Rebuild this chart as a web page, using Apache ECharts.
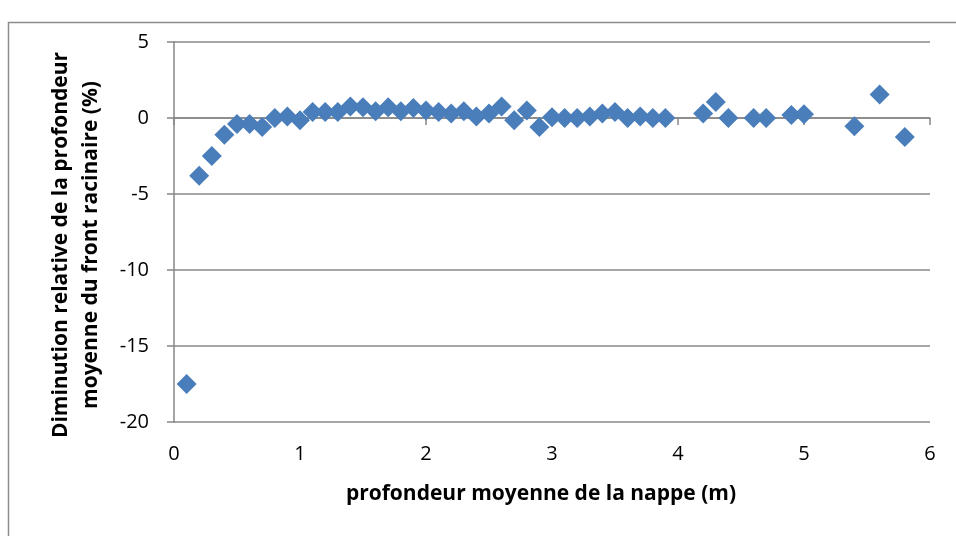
<!DOCTYPE html>
<html>
<head>
<meta charset="utf-8">
<script src="https://cdn.jsdelivr.net/npm/echarts@6/dist/echarts.min.js"></script>
<style>
  html, body { margin: 0; padding: 0; background: #fff; }
  #chart { width: 956px; height: 536px; }
</style>
</head>
<body>
<div id="chart"></div>
<script>
// Mean water-table depth (m)
const depth = [0.1, 0.2, 0.3, 0.4, 0.5, 0.6, 0.7, 0.8, 0.9, 1.0,
               1.1, 1.2, 1.3, 1.4, 1.5, 1.6, 1.7, 1.8, 1.9, 2.0,
               2.1, 2.2, 2.3, 2.4, 2.5, 2.6, 2.7, 2.8, 2.9, 3.0,
               3.1, 3.2, 3.3, 3.4, 3.5, 3.6, 3.7, 3.8, 3.9,
               4.2, 4.3, 4.4, 4.6, 4.7, 4.9, 5.0, 5.4, 5.6, 5.8];
// Relative decrease of the mean rooting-front depth (%)
const decrease = [-17.5, -3.8, -2.5, -1.1, -0.4, -0.4, -0.6, 0.0, 0.1, -0.15,
                  0.4, 0.4, 0.4, 0.75, 0.7, 0.45, 0.7, 0.45, 0.65, 0.5,
                  0.4, 0.3, 0.45, 0.1, 0.3, 0.75, -0.15, 0.5, -0.6, 0.05,
                  0.0, 0.0, 0.1, 0.3, 0.4, 0.0, 0.1, 0.0, 0.0,
                  0.3, 1.05, 0.0, 0.0, 0.0, 0.2, 0.25, -0.55, 1.55, -1.25];

const xTicks = { min: 0, max: 6, interval: 1 };
const yTicks = { min: -20, max: 5, interval: 5 };

const xTitle = 'profondeur moyenne de la nappe (m)';
const yTitleLines = ['Diminution relative de la profondeur', 'moyenne du front racinaire (%)'];

const FONT = '"Open Sans", "Liberation Sans", sans-serif';
const GRID_COLOR = '#878787';

const chart = echarts.init(document.getElementById('chart'), null, { renderer: 'canvas' });

chart.setOption({
  backgroundColor: '#ffffff',
  animation: false,
  grid: { left: 174, right: 26, top: 42, bottom: 114, containLabel: false },
  xAxis: [
    {
      // labels along the bottom edge
      type: 'value',
      position: 'bottom',
      min: xTicks.min, max: xTicks.max, interval: xTicks.interval,
      axisLine: { show: false, onZero: false },
      axisTick: { show: false },
      splitLine: { show: false },
      axisLabel: { color: '#000', fontFamily: FONT, fontSize: 20, margin: 22 }
    },
    {
      // axis line crossing at y = 0 with downward ticks
      type: 'value',
      position: 'top',
      min: xTicks.min, max: xTicks.max, interval: xTicks.interval,
      axisLine: { show: true, onZero: true, lineStyle: { color: GRID_COLOR, width: 1.5 } },
      axisTick: { show: true, inside: true, length: 7, lineStyle: { color: GRID_COLOR, width: 1.5 } },
      splitLine: { show: false },
      axisLabel: { show: false }
    }
  ],
  yAxis: {
    type: 'value',
    min: yTicks.min, max: yTicks.max, interval: yTicks.interval,
    axisLine: { show: true, onZero: false, lineStyle: { color: GRID_COLOR, width: 1.5 } },
    axisTick: { show: true, length: 7, lineStyle: { color: GRID_COLOR, width: 1.5 } },
    splitLine: { show: true, lineStyle: { color: GRID_COLOR, width: 1.5 } },
    axisLabel: { color: '#000', fontFamily: FONT, fontSize: 20, margin: 25 }
  },
  graphic: [
    {
      type: 'rect',
      shape: { x: 8.5, y: 22.5, width: 1000, height: 600 },
      style: { fill: 'none', stroke: '#8c8c8c', lineWidth: 1.5 },
      silent: true, z: -1
    },
    {
      type: 'text',
      x: 541, y: 494,
      style: {
        text: xTitle, fill: '#000', font: 'bold 21px ' + FONT,
        textAlign: 'center', textVerticalAlign: 'middle'
      }
    },
    {
      type: 'text',
      x: 76, y: 245,
      rotation: Math.PI / 2,
      style: {
        text: yTitleLines.join('\n'), fill: '#000', font: 'bold 21px ' + FONT,
        lineHeight: 30,
        textAlign: 'center', textVerticalAlign: 'middle'
      }
    }
  ],
  series: [
    {
      type: 'scatter',
      xAxisIndex: 0,
      symbol: 'diamond',
      symbolSize: [20, 20],
      itemStyle: { color: '#4a7ebb', opacity: 1 },
      data: depth.map((d, i) => [d, decrease[i]]),
      z: 5
    }
  ]
});
</script>
</body>
</html>
